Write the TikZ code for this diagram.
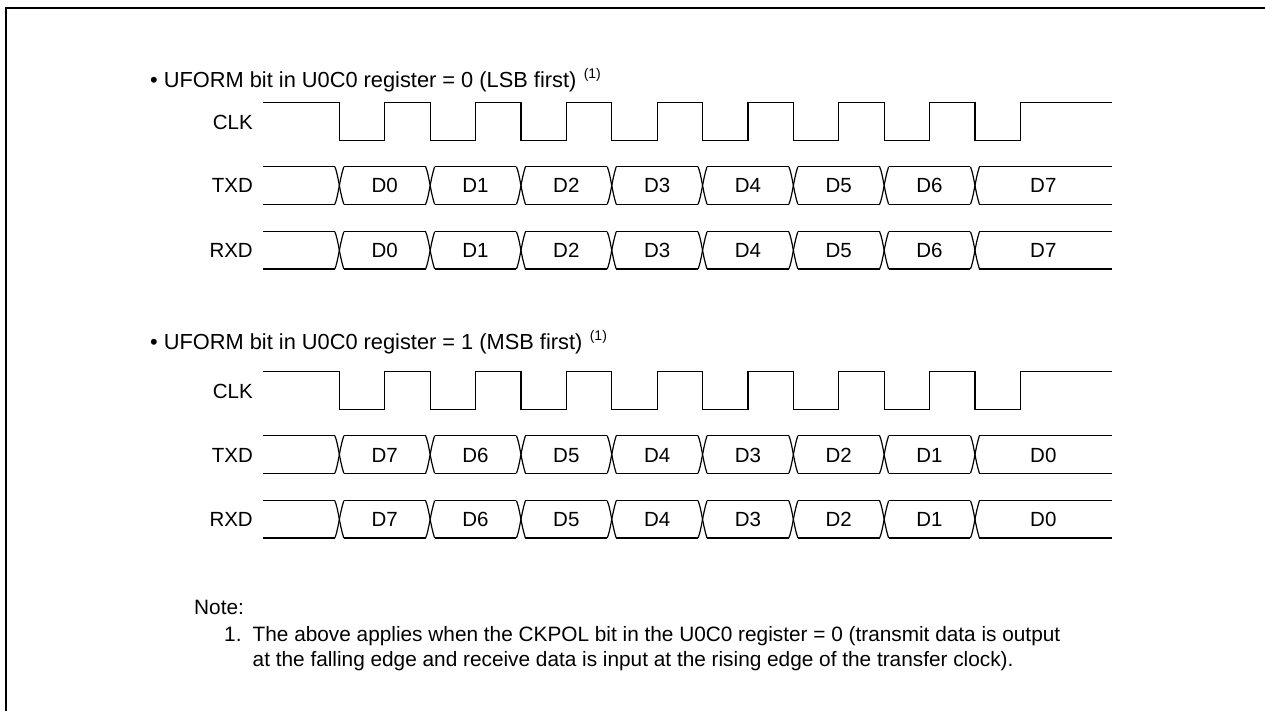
\documentclass[tikz,border=0pt]{standalone}
\usepackage{fontspec}
\setmainfont{Liberation Sans}
\begin{document}
\begin{tikzpicture}[x=1pt,y=-1pt,
  sig/.style={line width=1.2pt,line cap=butt,line join=miter},
  frame/.style={line width=2.7pt},
  lbl/.style={anchor=base east,inner sep=0pt,font=\fontsize{20.5}{24}\selectfont},
  dat/.style={anchor=base,inner sep=0pt,font=\fontsize{20.5}{24}\selectfont},
  head/.style={anchor=base west,inner sep=0pt,font=\fontsize{21.8}{26}\selectfont},
  sup/.style={anchor=base west,inner sep=0pt,font=\fontsize{14}{16}\selectfont},
  note/.style={anchor=base west,inner sep=0pt,font=\fontsize{20.8}{25}\selectfont}]
\useasboundingbox (0,0) rectangle (1265,711);
\draw[frame] (6,711) -- (6,8) -- (1265,8);

% parameters
\def\xs{263.3}\def\xe{1111.7}\def\ta{339.3}\def\per{90.8}\def\hw{4.5}

% clock: #1 = high y, #2 = low y
\newcommand{\clkwave}[2]{%
  \draw[sig] (\xs,#1)
    \foreach \k in {0,...,7}{ -- ({\ta+\k*\per},#1) -- ({\ta+\k*\per},#2) -- ({\ta+\k*\per+\per/2},#2) -- ({\ta+\k*\per+\per/2},#1) }
    -- (\xe,#1);}
% bus: #1 top, #2 bottom
\newcommand{\buswave}[2]{%
  \draw[sig] (\xs,#1) -- ({\ta-\hw},#1);
  \draw[sig] (\xs,#2) -- ({\ta-\hw},#2);
  \foreach \k in {0,...,7}{
    \pgfmathsetmacro{\tt}{\ta+\k*\per}
    \draw[sig] ({\tt-\hw},#1) .. controls ({\tt-1},{#1+8}) and ({\tt},{#2-14}) .. ({\tt+\hw},#2);
    \draw[sig] ({\tt-\hw},#2) .. controls ({\tt-1},{#2-8}) and ({\tt},{#1+14}) .. ({\tt+\hw},#1);
  }
  \foreach \k in {0,...,6}{
    \draw[sig] ({\ta+\k*\per+\hw},#1) -- ({\ta+(\k+1)*\per-\hw},#1);
    \draw[sig] ({\ta+\k*\per+\hw},#2) -- ({\ta+(\k+1)*\per-\hw},#2);
  }
  \draw[sig] ({\ta+7*\per+\hw},#1) -- (\xe,#1);
  \draw[sig] ({\ta+7*\per+\hw},#2) -- (\xe,#2);}
% labels: #1 baseline y, #2 list, #3 name prefix
\newcommand{\buslabels}[3]{%
  \foreach \n [count=\i from 0] in {#2}{
    \ifnum\i<7
      \node[dat] (#3\i) at ({\ta+\i*\per+\per/2},#1) {\n};
    \else
      \node[dat] (#3\i) at ({(\ta+7*\per+\xe)/2},#1) {\n};
    \fi}}

% ---------- section 1 ----------
\node[head] (h1) at (150,87.5) {• UFORM bit in U0C0 register = 0 (LSB first)};
\node[sup] (s1) at ([xshift=7pt,yshift=9pt]h1.base east) {(1)};
\node[lbl] (clk1) at (253,129.5) {CLK};
\node[lbl] (txd1) at (253,193) {TXD};
\node[lbl] (rxd1) at (253,257.8) {RXD};
\clkwave{102.7}{140.7}
\buswave{166.7}{204.3}
\buswave{231.7}{269}
\buslabels{193}{D0,D1,D2,D3,D4,D5,D6,D7}{ta}
\buslabels{257.8}{D0,D1,D2,D3,D4,D5,D6,D7}{ra}

% ---------- section 2 ----------
\node[head] (h2) at (150,349.2) {• UFORM bit in U0C0 register = 1 (MSB first)};
\node[sup] (s2) at ([xshift=7pt,yshift=9pt]h2.base east) {(1)};
\node[lbl] (clk2) at (253,398.5) {CLK};
\node[lbl] (txd2) at (253,462) {TXD};
\node[lbl] (rxd2) at (253,526.8) {RXD};
\clkwave{371.7}{409.7}
\buswave{435.7}{473.3}
\buswave{500.7}{538}
\buslabels{462}{D7,D6,D5,D4,D3,D2,D1,D0}{tb}
\buslabels{526.8}{D7,D6,D5,D4,D3,D2,D1,D0}{rb}

% ---------- note ----------
\node[note] (nt) at (194,614.5) {Note:};
\node[note] (n1) at (224,641) {1.};
\node[note] (l1) at (252.5,641) {The above applies when the CKPOL bit in the U0C0 register = 0 (transmit data is output};
\node[note] (l2) at (252.5,666.5) {at the falling edge and receive data is input at the rising edge of the transfer clock).};
\end{tikzpicture}
\end{document}
